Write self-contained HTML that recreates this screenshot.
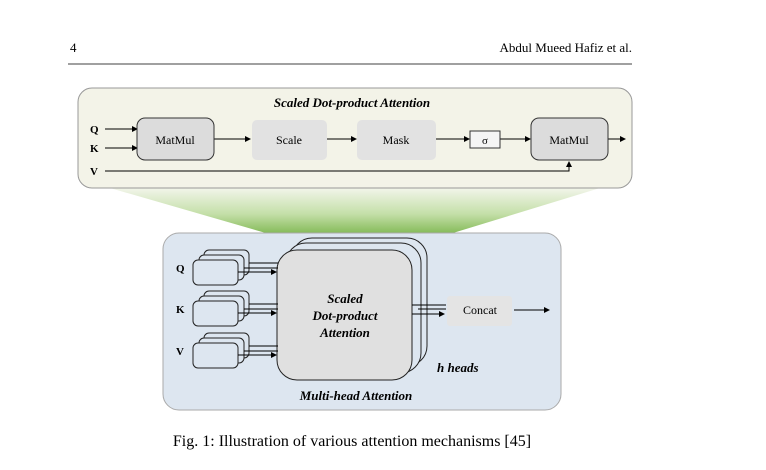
<!DOCTYPE html>
<html><head><style>body{margin:0;background:#fff}svg{display:block}text{font-family:"Liberation Serif",serif}</style></head><body>
<svg width="766" height="470" viewBox="0 0 766 470" xmlns="http://www.w3.org/2000/svg">
<defs>
<linearGradient id="g" x1="0" y1="0" x2="0" y2="1"><stop offset="0" stop-color="#f2f5ea"/><stop offset="0.5" stop-color="#c4dfa8"/><stop offset="1" stop-color="#6fae3e"/></linearGradient>
<marker id="a" markerWidth="6" markerHeight="6" refX="5" refY="3" orient="auto"><path d="M0,0L6,3L0,6z" fill="#000"/></marker>
</defs>
<text x="70" y="52" font-size="13">4</text>
<text x="632" y="52" font-size="13" text-anchor="end">Abdul Mueed Hafiz et al.</text>
<line x1="68" y1="64" x2="632" y2="64" stroke="#000" stroke-width="0.8"/>
<polygon points="110,188 600,188 430,240 290,240" fill="url(#g)"/>
<rect x="78" y="88" width="554" height="100" rx="14" fill="#f3f3e8" stroke="#999"/>
<text x="352" y="107" font-size="13" font-weight="bold" font-style="italic" text-anchor="middle">Scaled Dot-product Attention</text>
<g stroke="#000" fill="none" stroke-width="1">
<line x1="105" y1="129" x2="137" y2="129" marker-end="url(#a)"/>
<line x1="105" y1="148" x2="137" y2="148" marker-end="url(#a)"/>
<line x1="214" y1="139" x2="250" y2="139" marker-end="url(#a)"/>
<line x1="327" y1="139" x2="356" y2="139" marker-end="url(#a)"/>
<line x1="436" y1="139" x2="469" y2="139" marker-end="url(#a)"/>
<line x1="500" y1="139" x2="530" y2="139" marker-end="url(#a)"/>
<line x1="608" y1="139" x2="625" y2="139" marker-end="url(#a)"/>
<polyline points="105,171 569,171 569,162" marker-end="url(#a)"/>
</g>
<text x="90" y="133" font-size="11" font-weight="bold">Q</text>
<text x="90" y="152" font-size="11" font-weight="bold">K</text>
<text x="90" y="175" font-size="11" font-weight="bold">V</text>
<rect x="137" y="118" width="77" height="42" rx="8" fill="#dcdcdc" stroke="#333"/>
<text x="175" y="144" font-size="12" text-anchor="middle">MatMul</text>
<rect x="252" y="120" width="75" height="40" rx="5" fill="#e2e2e2"/>
<text x="289" y="144" font-size="12" text-anchor="middle">Scale</text>
<rect x="357" y="120" width="79" height="40" rx="5" fill="#e2e2e2"/>
<text x="396" y="144" font-size="12" text-anchor="middle">Mask</text>
<rect x="470" y="131" width="30" height="17" fill="#f4f4f4" stroke="#333"/>
<text x="485" y="144" font-size="11" text-anchor="middle">σ</text>
<rect x="531" y="118" width="77" height="42" rx="8" fill="#dcdcdc" stroke="#333"/>
<text x="569" y="144" font-size="12" text-anchor="middle">MatMul</text>

<rect x="163" y="233" width="398" height="177" rx="16" fill="#dde6f0" stroke="#aaa"/>
<g stroke="#222" fill="#dde6f0">
<rect x="292" y="238" width="135" height="128" rx="20"/>
<rect x="286" y="243" width="135" height="130" rx="20"/>
<rect x="277" y="250" width="135" height="130" rx="20" fill="#e0e0e0"/>
</g>
<text x="345" y="303" font-size="13" font-weight="bold" font-style="italic" text-anchor="middle">Scaled</text>
<text x="345" y="320" font-size="13" font-weight="bold" font-style="italic" text-anchor="middle">Dot-product</text>
<text x="345" y="337" font-size="13" font-weight="bold" font-style="italic" text-anchor="middle">Attention</text>
<g stroke="#222" fill="#dde6f0">
<rect x="204" y="250" width="45" height="25" rx="5"/><rect x="199" y="255" width="45" height="25" rx="5"/><rect x="193" y="260" width="45" height="25" rx="5"/>
<rect x="204" y="291" width="45" height="25" rx="5"/><rect x="199" y="296" width="45" height="25" rx="5"/><rect x="193" y="301" width="45" height="25" rx="5"/>
<rect x="204" y="333" width="45" height="25" rx="5"/><rect x="199" y="338" width="45" height="25" rx="5"/><rect x="193" y="343" width="45" height="25" rx="5"/>
</g>
<g stroke="#000" stroke-width="1">
<line x1="249" y1="263" x2="278" y2="263"/><line x1="244" y1="268" x2="278" y2="268"/><line x1="238" y1="272" x2="276" y2="272" marker-end="url(#a)"/>
<line x1="249" y1="304" x2="278" y2="304"/><line x1="244" y1="309" x2="278" y2="309"/><line x1="238" y1="313" x2="276" y2="313" marker-end="url(#a)"/>
<line x1="249" y1="346" x2="278" y2="346"/><line x1="244" y1="351" x2="278" y2="351"/><line x1="238" y1="355" x2="276" y2="355" marker-end="url(#a)"/>
<line x1="412" y1="305" x2="446" y2="305"/><line x1="418" y1="309" x2="446" y2="309"/><line x1="412" y1="314" x2="444" y2="314" marker-end="url(#a)"/>
<line x1="514" y1="310" x2="549" y2="310" marker-end="url(#a)"/>
</g>
<text x="176" y="272" font-size="11" font-weight="bold">Q</text>
<text x="176" y="313" font-size="11" font-weight="bold">K</text>
<text x="176" y="355" font-size="11" font-weight="bold">V</text>
<rect x="447" y="296" width="65" height="30" rx="3" fill="#e4e4e4"/>
<text x="480" y="314" font-size="12" text-anchor="middle">Concat</text>
<text x="437" y="372" font-size="13" font-weight="bold" font-style="italic">h heads</text>
<text x="356" y="400" font-size="13" font-weight="bold" font-style="italic" text-anchor="middle">Multi-head Attention</text>
<text x="352" y="446" font-size="16" text-anchor="middle">Fig. 1: Illustration of various attention mechanisms [45]</text>
</svg>
</body></html>
